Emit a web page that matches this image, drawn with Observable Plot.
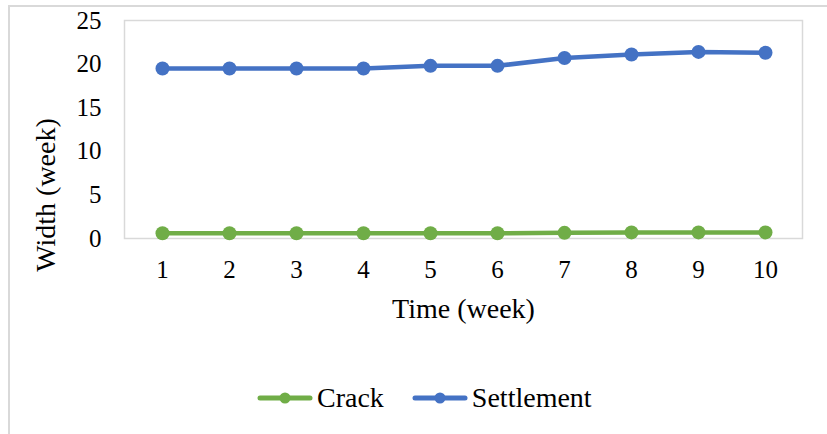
<!DOCTYPE html>
<html>
<head>
<meta charset="utf-8">
<script src="https://cdn.jsdelivr.net/npm/d3@7"></script>
<script src="https://cdn.jsdelivr.net/npm/@observablehq/plot@0.6"></script>
<style>
  html, body { margin: 0; padding: 0; background: #fff; }
  body { width: 827px; height: 434px; position: relative; overflow: hidden; font-family: "Liberation Serif", "Times New Roman", serif; color: #000; }
  #border { position: absolute; left: 8px; top: 5px; width: 830px; height: 440px; border-left: 2px solid #d9d9d9; border-top: 2px solid #d9d9d9; box-sizing: border-box; }
  #chart { position: absolute; left: 0; top: 0; }
  .title { position: absolute; font-size: 28px; line-height: 1; white-space: nowrap; }
  #xtitle { left: 463.5px; top: 308.5px; transform: translate(-50%, -50%); }
  #ytitle { left: 45.5px; top: 195px; transform: translate(-50%, -50%) rotate(-90deg); }
  #legend { position: absolute; left: 257px; top: 378px; display: flex; align-items: center; font-size: 28px; }
  .item { display: flex; align-items: center; }
  .item svg { display: block; }
  .item span { margin-left: 4px; line-height: 40px; }
</style>
</head>
<body>
<div id="border"></div>
<div id="chart"></div>
<div id="xtitle" class="title"></div>
<div id="ytitle" class="title"></div>
<div id="legend"></div>
<script>
const weeks = [1, 2, 3, 4, 5, 6, 7, 8, 9, 10];
const crack = [0.6, 0.6, 0.6, 0.6, 0.6, 0.6, 0.65, 0.7, 0.7, 0.7];
const settlement = [19.5, 19.5, 19.5, 19.5, 19.8, 19.8, 20.7, 21.1, 21.4, 21.3];
const seriesNames = ["Crack", "Settlement"];
const seriesColors = ["#70AD47", "#4472C4"];
const yTicks = [0, 5, 10, 15, 20, 25];
const xTitle = "Time (week)";
const yTitle = "Width (week)";

const seriesValues = [crack, settlement];
const rows = [];
seriesNames.forEach((name, si) => {
  weeks.forEach((w, i) => rows.push({ series: name, week: w, value: seriesValues[si][i] }));
});
const colorOf = Object.fromEntries(seriesNames.map((n, i) => [n, seriesColors[i]]));

const plot = Plot.plot({
  width: 827,
  height: 340,
  marginTop: 20,
  marginLeft: 124,
  marginRight: 25,
  marginBottom: 102,
  style: { fontFamily: "Liberation Serif, Times New Roman, serif", background: "transparent", color: "#000" },
  x: { type: "point", domain: weeks, padding: 0.5 },
  y: { domain: [0, 25] },
  marks: [
    Plot.frame({ stroke: "#d9d9d9", strokeWidth: 1.5 }),
    Plot.axisY({ ticks: yTicks, tickSize: 0, tickPadding: 23, fontSize: 25, label: null }),
    Plot.axisX({ tickSize: 0, tickPadding: 22, fontSize: 25, label: null }),
    ...seriesNames.map(name =>
      Plot.line(rows.filter(d => d.series === name), { x: "week", y: "value", stroke: colorOf[name], strokeWidth: 4.5, strokeLinejoin: "round", strokeLinecap: "round" })
    ),
    ...seriesNames.map(name =>
      Plot.dot(rows.filter(d => d.series === name), { x: "week", y: "value", r: 7, fill: colorOf[name], stroke: "none" })
    )
  ]
});
document.getElementById("chart").appendChild(plot);
document.getElementById("xtitle").textContent = xTitle;
document.getElementById("ytitle").textContent = yTitle;

const legend = document.getElementById("legend");
seriesNames.forEach((name, i) => {
  const item = document.createElement("div");
  item.className = "item";
  if (i > 0) item.style.marginLeft = "28px";
  item.innerHTML = `<svg width="56" height="14"><line x1="3" y1="7" x2="53" y2="7" stroke="${seriesColors[i]}" stroke-width="5" stroke-linecap="round"/><circle cx="28" cy="7" r="5.5" fill="${seriesColors[i]}"/></svg><span>${name}</span>`;
  legend.appendChild(item);
});
</script>
</body>
</html>
